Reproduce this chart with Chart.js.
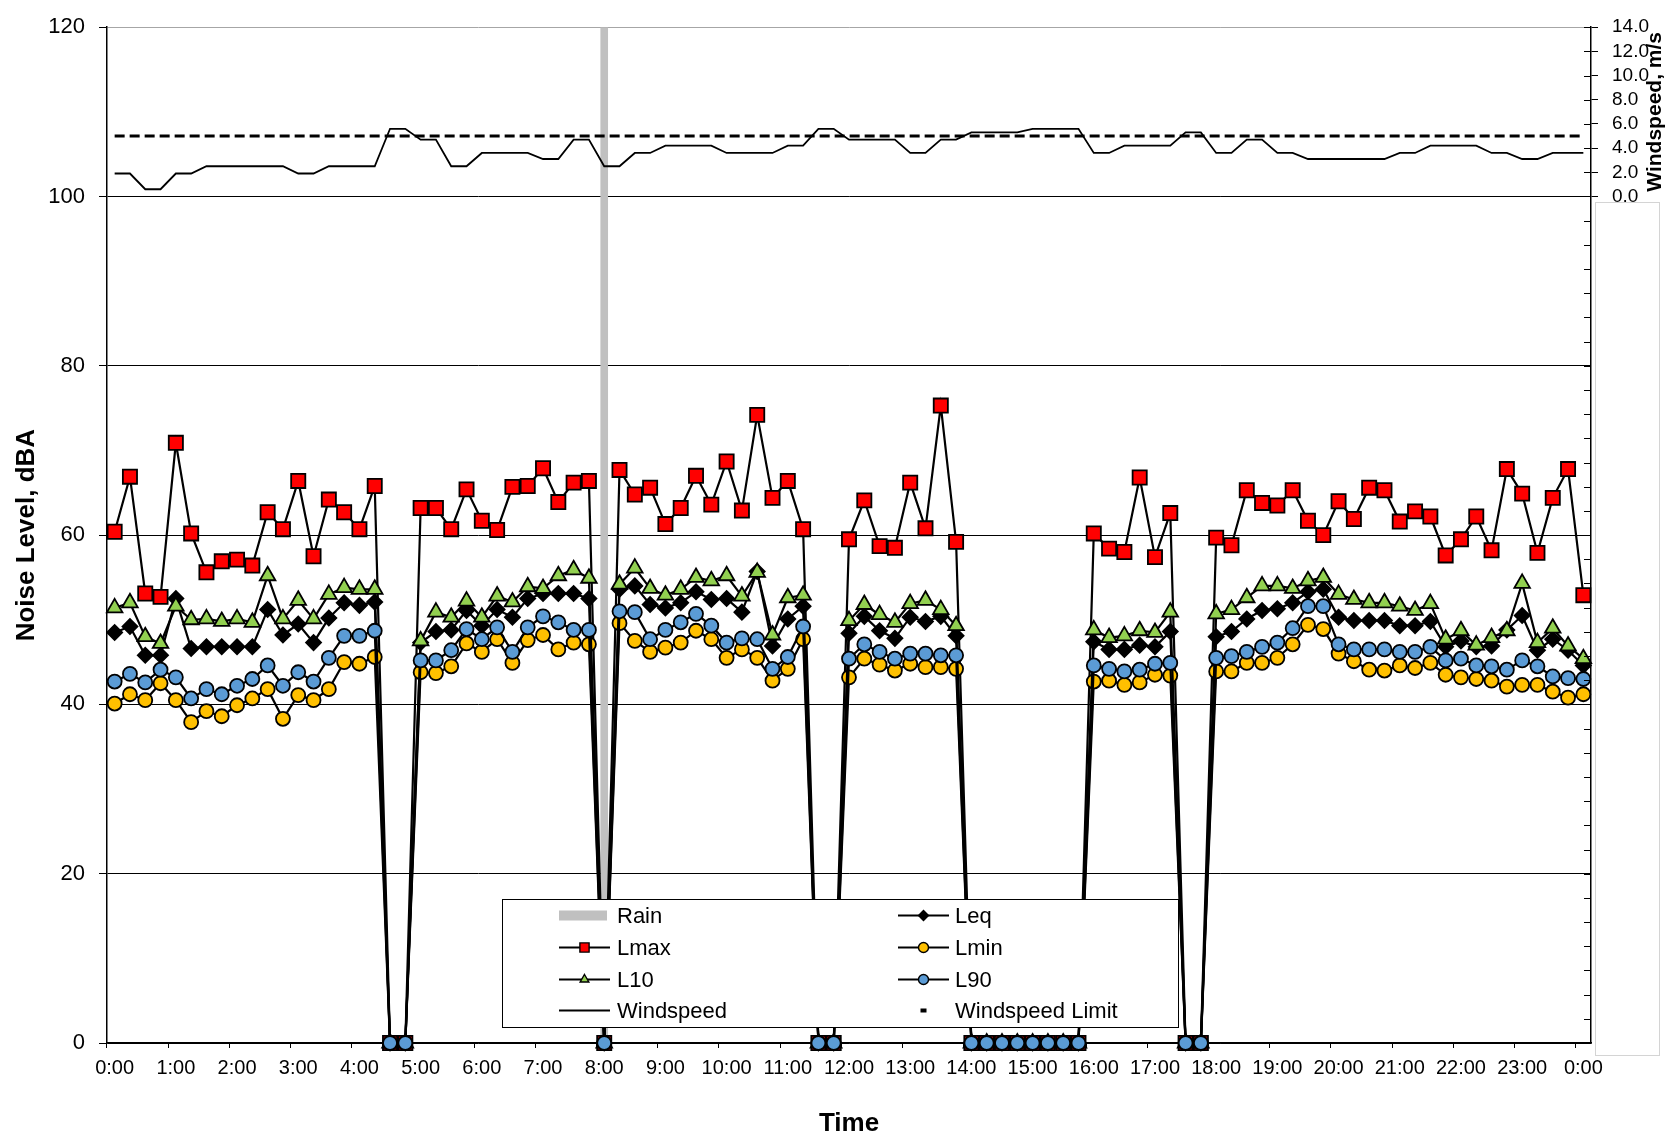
<!DOCTYPE html>
<html>
<head>
<meta charset="utf-8">
<title>Noise monitoring</title>
<script src="https://cdn.jsdelivr.net/npm/chart.js@4.4.1/dist/chart.umd.min.js"></script>
<style>
    html, body { margin: 0; padding: 0; background: #fff; }
    #wrap { position: relative; width: 1671px; height: 1139px; }
    #side-box { position: absolute; left: 1595px; top: 202px; width: 63px; height: 852px; border: 1px solid #d4d4d4; }
</style>
</head>
<body>
<div id="wrap">
    <canvas id="noise-chart" width="1671" height="1139"></canvas>
    <div id="side-box"></div>
</div>
<script>
// 15-minute readings, 0:00 through the following 0:00 (97 slots)
const timeLabels = [];
for (let h = 0; h <= 24; h++) {
    for (let q = 0; q < 4; q++) {
        if (h === 24 && q > 0) break;
        timeLabels.push((h % 24) + ':' + String(q * 15).padStart(2, '0'));
    }
}

const lmax = [
    60.4, 66.9, 53.1, 52.7, 70.9, 60.2, 55.6, 56.9, 57.1, 56.4, 62.7, 60.7,
    66.4, 57.5, 64.2, 62.7, 60.7, 65.8, 0, 0, 63.2, 63.2, 60.7, 65.4,
    61.7, 60.6, 65.7, 65.8, 67.9, 63.9, 66.2, 66.4, 0, 67.7, 64.8, 65.6,
    61.3, 63.2, 67.0, 63.6, 68.7, 62.9, 74.2, 64.4, 66.4, 60.7, 0, 0,
    59.5, 64.1, 58.7, 58.5, 66.2, 60.8, 75.3, 59.2, 0, 0, 0, 0,
    0, 0, 0, 0, 60.2, 58.4, 58.0, 66.8, 57.4, 62.6, 0, 0,
    59.7, 58.8, 65.3, 63.8, 63.5, 65.3, 61.7, 60.0, 64.0, 61.9, 65.6, 65.3,
    61.6, 62.8, 62.2, 57.6, 59.5, 62.2, 58.2, 67.8, 64.9, 57.9, 64.4, 67.8,
    52.9
];
const leq = [
    48.5, 49.2, 45.8, 45.8, 52.5, 46.6, 46.8, 46.8, 46.8, 46.8, 51.2, 48.2,
    49.5, 47.3, 50.2, 52.0, 51.7, 52.1, 0, 0, 47.3, 48.6, 48.8, 51.1,
    49.3, 51.2, 50.3, 52.5, 53.1, 53.1, 53.1, 52.5, 0, 53.6, 54.0, 51.8,
    51.4, 52.0, 53.3, 52.4, 52.5, 50.9, 55.7, 46.9, 50.1, 51.6, 0, 0,
    48.4, 50.4, 48.7, 47.8, 50.3, 49.8, 50.4, 48.1, 0, 0, 0, 0,
    0, 0, 0, 0, 47.4, 46.5, 46.5, 47.0, 46.8, 48.6, 0, 0,
    48.0, 48.6, 50.1, 51.1, 51.3, 52.0, 53.3, 53.6, 50.3, 49.9, 49.9, 49.9,
    49.3, 49.3, 49.8, 46.8, 47.5, 46.8, 46.9, 48.8, 50.5, 46.4, 47.7, 46.4,
    44.6
];
const l10 = [
    51.4, 52.0, 48.0, 47.2, 51.6, 50.0, 50.1, 49.8, 50.1, 49.7, 55.2, 50.1,
    52.3, 50.1, 53.0, 53.8, 53.6, 53.6, 0, 0, 47.5, 50.9, 50.3, 52.2,
    50.3, 52.8, 52.1, 53.9, 53.7, 55.2, 55.9, 54.9, 0, 54.2, 56.1, 53.7,
    52.9, 53.6, 55.0, 54.6, 55.2, 52.8, 55.6, 48.2, 52.6, 52.9, 0, 0,
    49.9, 51.8, 50.6, 49.7, 51.9, 52.3, 51.2, 49.3, 0, 0, 0, 0,
    0, 0, 0, 0, 48.8, 47.9, 48.1, 48.7, 48.5, 50.9, 0, 0,
    50.7, 51.2, 52.6, 54.0, 54.0, 53.7, 54.6, 55.0, 53.0, 52.4, 52.0, 52.0,
    51.6, 51.1, 51.9, 47.7, 48.7, 47.0, 47.9, 48.7, 54.3, 47.3, 49.0, 46.9,
    45.4
];
const lmin = [
    40.1, 41.2, 40.5, 42.5, 40.5, 37.9, 39.2, 38.6, 39.9, 40.7, 41.8, 38.3,
    41.1, 40.5, 41.8, 45.0, 44.8, 45.6, 0, 0, 43.8, 43.7, 44.5, 47.2,
    46.2, 47.7, 44.9, 47.6, 48.2, 46.5, 47.3, 47.1, 0, 49.6, 47.5, 46.2,
    46.7, 47.3, 48.7, 47.7, 45.5, 46.5, 45.5, 42.8, 44.2, 47.7, 0, 0,
    43.2, 45.4, 44.7, 44.0, 44.8, 44.4, 44.4, 44.2, 0, 0, 0, 0,
    0, 0, 0, 0, 42.7, 42.8, 42.3, 42.6, 43.5, 43.4, 0, 0,
    43.9, 43.9, 44.9, 44.9, 45.5, 47.1, 49.4, 48.9, 46.0, 45.1, 44.1, 44.0,
    44.6, 44.3, 44.9, 43.5, 43.2, 43.0, 42.8, 42.1, 42.3, 42.3, 41.5, 40.8,
    41.2
];
const l90 = [
    42.7, 43.6, 42.6, 44.1, 43.2, 40.7, 41.8, 41.2, 42.2, 43.0, 44.6, 42.2,
    43.8, 42.7, 45.5, 48.1, 48.1, 48.7, 0, 0, 45.2, 45.2, 46.4, 48.9,
    47.7, 49.1, 46.2, 49.1, 50.4, 49.7, 48.8, 48.8, 0, 51.0, 50.9, 47.7,
    48.8, 49.7, 50.7, 49.3, 47.3, 47.8, 47.7, 44.2, 45.6, 49.2, 0, 0,
    45.4, 47.1, 46.2, 45.4, 46.0, 46.0, 45.8, 45.8, 0, 0, 0, 0,
    0, 0, 0, 0, 44.6, 44.2, 43.9, 44.1, 44.8, 44.9, 0, 0,
    45.5, 45.7, 46.2, 46.8, 47.3, 49.0, 51.6, 51.6, 47.1, 46.5, 46.5, 46.5,
    46.2, 46.2, 46.8, 45.2, 45.4, 44.6, 44.5, 44.1, 45.2, 44.5, 43.3, 43.1,
    43.0
];
// m/s, right axis
const windspeed = [
    1.9, 1.9, 0.6, 0.6, 1.9, 1.9, 2.5, 2.5, 2.5, 2.5, 2.5, 2.5,
    1.9, 1.9, 2.5, 2.5, 2.5, 2.5, 5.6, 5.6, 4.7, 4.7, 2.5, 2.5,
    3.6, 3.6, 3.6, 3.6, 3.1, 3.1, 4.7, 4.7, 2.5, 2.5, 3.6, 3.6,
    4.2, 4.2, 4.2, 4.2, 3.6, 3.6, 3.6, 3.6, 4.2, 4.2, 5.6, 5.6,
    4.7, 4.7, 4.7, 4.7, 3.6, 3.6, 4.7, 4.7, 5.3, 5.3, 5.3, 5.3,
    5.6, 5.6, 5.6, 5.6, 3.6, 3.6, 4.2, 4.2, 4.2, 4.2, 5.3, 5.3,
    3.6, 3.6, 4.7, 4.7, 3.6, 3.6, 3.1, 3.1, 3.1, 3.1, 3.1, 3.1,
    3.6, 3.6, 4.2, 4.2, 4.2, 4.2, 3.6, 3.6, 3.1, 3.1, 3.6, 3.6,
    3.6
];
const windLimit = 5.0;
const rainTimes = ['8:00'];
const rainTop = 120;

const noiseTicks = [0, 20, 40, 60, 80, 100, 120];
const windTickRange = [-70, 14];

const sansFont = "'Liberation Sans', Arial, sans-serif";
const narrowFont = "'Liberation Sans Narrow', 'Arial Narrow', 'Liberation Sans', sans-serif";

Chart.defaults.color = '#000';
Chart.defaults.font.family = sansFont;

function noiseSeries(label, data, style, fill, radius, order) {
    return {
        type: 'line', label, data, order,
        yAxisID: 'y',
        borderColor: '#000', borderWidth: 2.2,
        pointStyle: style, pointRadius: radius, pointHoverRadius: radius,
        pointBackgroundColor: fill, pointBorderColor: '#000', pointBorderWidth: 1.8,
        tension: 0, clip: false
    };
}

const datasets = [
    {
        type: 'bar', label: 'Rain', order: 10, yAxisID: 'y',
        data: timeLabels.map(t => rainTimes.includes(t) ? rainTop : null),
        backgroundColor: '#c0c0c0', barPercentage: 0.5, categoryPercentage: 1
    },
    noiseSeries('Leq', leq, 'rectRot', '#000', 7.5, 5),
    noiseSeries('Lmax', lmax, 'rect', '#ff0000', 10, 4),
    noiseSeries('Lmin', lmin, 'circle', '#ffc000', 7, 3),
    noiseSeries('L10', l10, 'triangle', '#92d050', 9, 2),
    noiseSeries('L90', l90, 'circle', '#5b9bd5', 7, 1),
    {
        type: 'line', label: 'Windspeed', data: windspeed, yAxisID: 'y1', order: 6,
        borderColor: '#000', borderWidth: 1.8, pointRadius: 0, tension: 0
    },
    {
        type: 'line', label: 'Windspeed Limit', data: timeLabels.map(() => windLimit), yAxisID: 'y1', order: 7,
        borderColor: '#000', borderWidth: 3, borderDash: [10, 5], pointRadius: 0, tension: 0
    }
];

// legend grid as drawn in the original: two columns, four rows
const legendRows = [
    ['Rain', 'Leq'],
    ['Lmax', 'Lmin'],
    ['L10', 'L90'],
    ['Windspeed', 'Windspeed Limit']
];

const overlayPlugin = {
    id: 'overlay',
    afterDraw(chart) {
        const ctx = chart.ctx;
        const area = chart.chartArea;
        const y1 = chart.scales.y1;
        ctx.save();

        // windspeed axis ticks also point into the plot
        ctx.strokeStyle = '#000';
        ctx.lineWidth = 1;
        y1.ticks.forEach(t => {
            const py = Math.round(y1.getPixelForValue(t.value)) + 0.5;
            ctx.beginPath();
            ctx.moveTo(area.right - 7, py);
            ctx.lineTo(area.right, py);
            ctx.stroke();
        });

        const box = { x: 502, y: 899, w: 676, h: 128 };
        const rowY = [915.5, 947.5, 979.5, 1010.5];
        const cols = [{ icon: 559, text: 617 }, { icon: 898, text: 955 }];
        ctx.fillStyle = '#fff';
        ctx.fillRect(box.x, box.y, box.w, box.h);
        ctx.strokeStyle = '#000';
        ctx.lineWidth = 1;
        ctx.strokeRect(box.x + 0.5, box.y + 0.5, box.w, box.h);

        legendRows.forEach((row, r) => {
            row.forEach((label, c) => {
                const ds = chart.data.datasets.find(d => d.label === label);
                const y = rowY[r];
                const x0 = cols[c].icon, x1 = x0 + 51, xm = (x0 + x1) / 2;
                if (ds.type === 'bar') {
                    ctx.fillStyle = ds.backgroundColor;
                    ctx.fillRect(x0, y - 5, 48, 10);
                } else if (ds.borderDash) {
                    ctx.fillStyle = '#000';
                    ctx.fillRect(xm - 3, y - 2, 6, 4);
                } else {
                    ctx.strokeStyle = '#000';
                    ctx.lineWidth = 1.8;
                    ctx.beginPath();
                    ctx.moveTo(x0, y);
                    ctx.lineTo(x1, y);
                    ctx.stroke();
                    if (ds.pointRadius > 0) {
                        ctx.fillStyle = ds.pointBackgroundColor;
                        ctx.strokeStyle = '#000';
                        ctx.lineWidth = 1.4;
                        Chart.helpers.drawPoint(ctx, {
                            pointStyle: ds.pointStyle,
                            radius: ds.pointStyle === 'rect' ? 6.5 : 5,
                            borderWidth: 1.4, rotation: 0
                        }, xm, y);
                    }
                }
                ctx.fillStyle = '#000';
                ctx.font = '22px ' + sansFont;
                ctx.textAlign = 'left';
                ctx.textBaseline = 'middle';
                ctx.fillText(label, cols[c].text, y + 1);
            });
        });

        // right axis title sits beside the windspeed band only
        const midY = (y1.getPixelForValue(0) + y1.getPixelForValue(windTickRange[1])) / 2;
        ctx.translate(1655, midY);
        ctx.rotate(-Math.PI / 2);
        ctx.fillStyle = '#000';
        ctx.font = 'bold 21px ' + sansFont;
        ctx.textAlign = 'center';
        ctx.textBaseline = 'middle';
        ctx.fillText('Windspeed, m/s', 0, 0);
        ctx.restore();
    }
};

new Chart(document.getElementById('noise-chart').getContext('2d'), {
    type: 'line',
    data: { labels: timeLabels, datasets },
    options: {
        responsive: false,
        animation: false,
        devicePixelRatio: 1,
        layout: { padding: { top: 21, left: 0, right: 0, bottom: 0 } },
        plugins: { legend: { display: false }, tooltip: { enabled: false } },
        scales: {
            x: {
                type: 'category',
                offset: true,
                grid: {
                    offset: true, drawOnChartArea: false, tickLength: 5,
                    color: c => c.index % 4 === 0 ? '#000' : 'rgba(0,0,0,0)'
                },
                border: { color: '#000', width: 1.5 },
                ticks: {
                    autoSkip: false, maxRotation: 0, minRotation: 0, padding: 8,
                    font: { family: narrowFont, size: 20 },
                    callback: (v, i) => i % 4 === 0 ? timeLabels[i] : ''
                },
                title: {
                    display: true, text: 'Time',
                    font: { family: sansFont, size: 26, weight: 'bold' },
                    padding: { top: 0, bottom: 0 }
                },
                afterFit: s => { s.height = 96; }
            },
            y: {
                position: 'left',
                min: noiseTicks[0], max: noiseTicks[noiseTicks.length - 1],
                afterBuildTicks: s => { s.ticks = noiseTicks.map(v => ({ value: v })); },
                ticks: { padding: 14, font: { family: sansFont, size: 22 } },
                grid: {
                    tickLength: 8, tickColor: '#000',
                    color: c => (c.tick && c.tick.value === 120) ? '#a6a6a6' : '#000'
                },
                border: { color: '#000', width: 1.5 },
                title: {
                    display: true, text: 'Noise Level, dBA',
                    font: { family: sansFont, size: 26, weight: 'bold' },
                    padding: { top: 11, bottom: 0 }
                },
                afterFit: s => { s.width = 107; }
            },
            y1: {
                position: 'right',
                min: windTickRange[0], max: windTickRange[1],
                ticks: {
                    stepSize: 2, autoSkip: false, padding: 14,
                    font: { family: narrowFont, size: 19 },
                    callback: v => v >= 0 ? v.toFixed(1) : ''
                },
                grid: {
                    drawOnChartArea: false, tickLength: 7,
                    color: c => (c.tick && c.tick.value >= 0) ? '#000' : 'rgba(0,0,0,0)'
                },
                border: { color: '#000', width: 1.5 },
                afterFit: s => { s.width = 80; }
            }
        }
    },
    plugins: [overlayPlugin]
});
</script>
</body>
</html>
